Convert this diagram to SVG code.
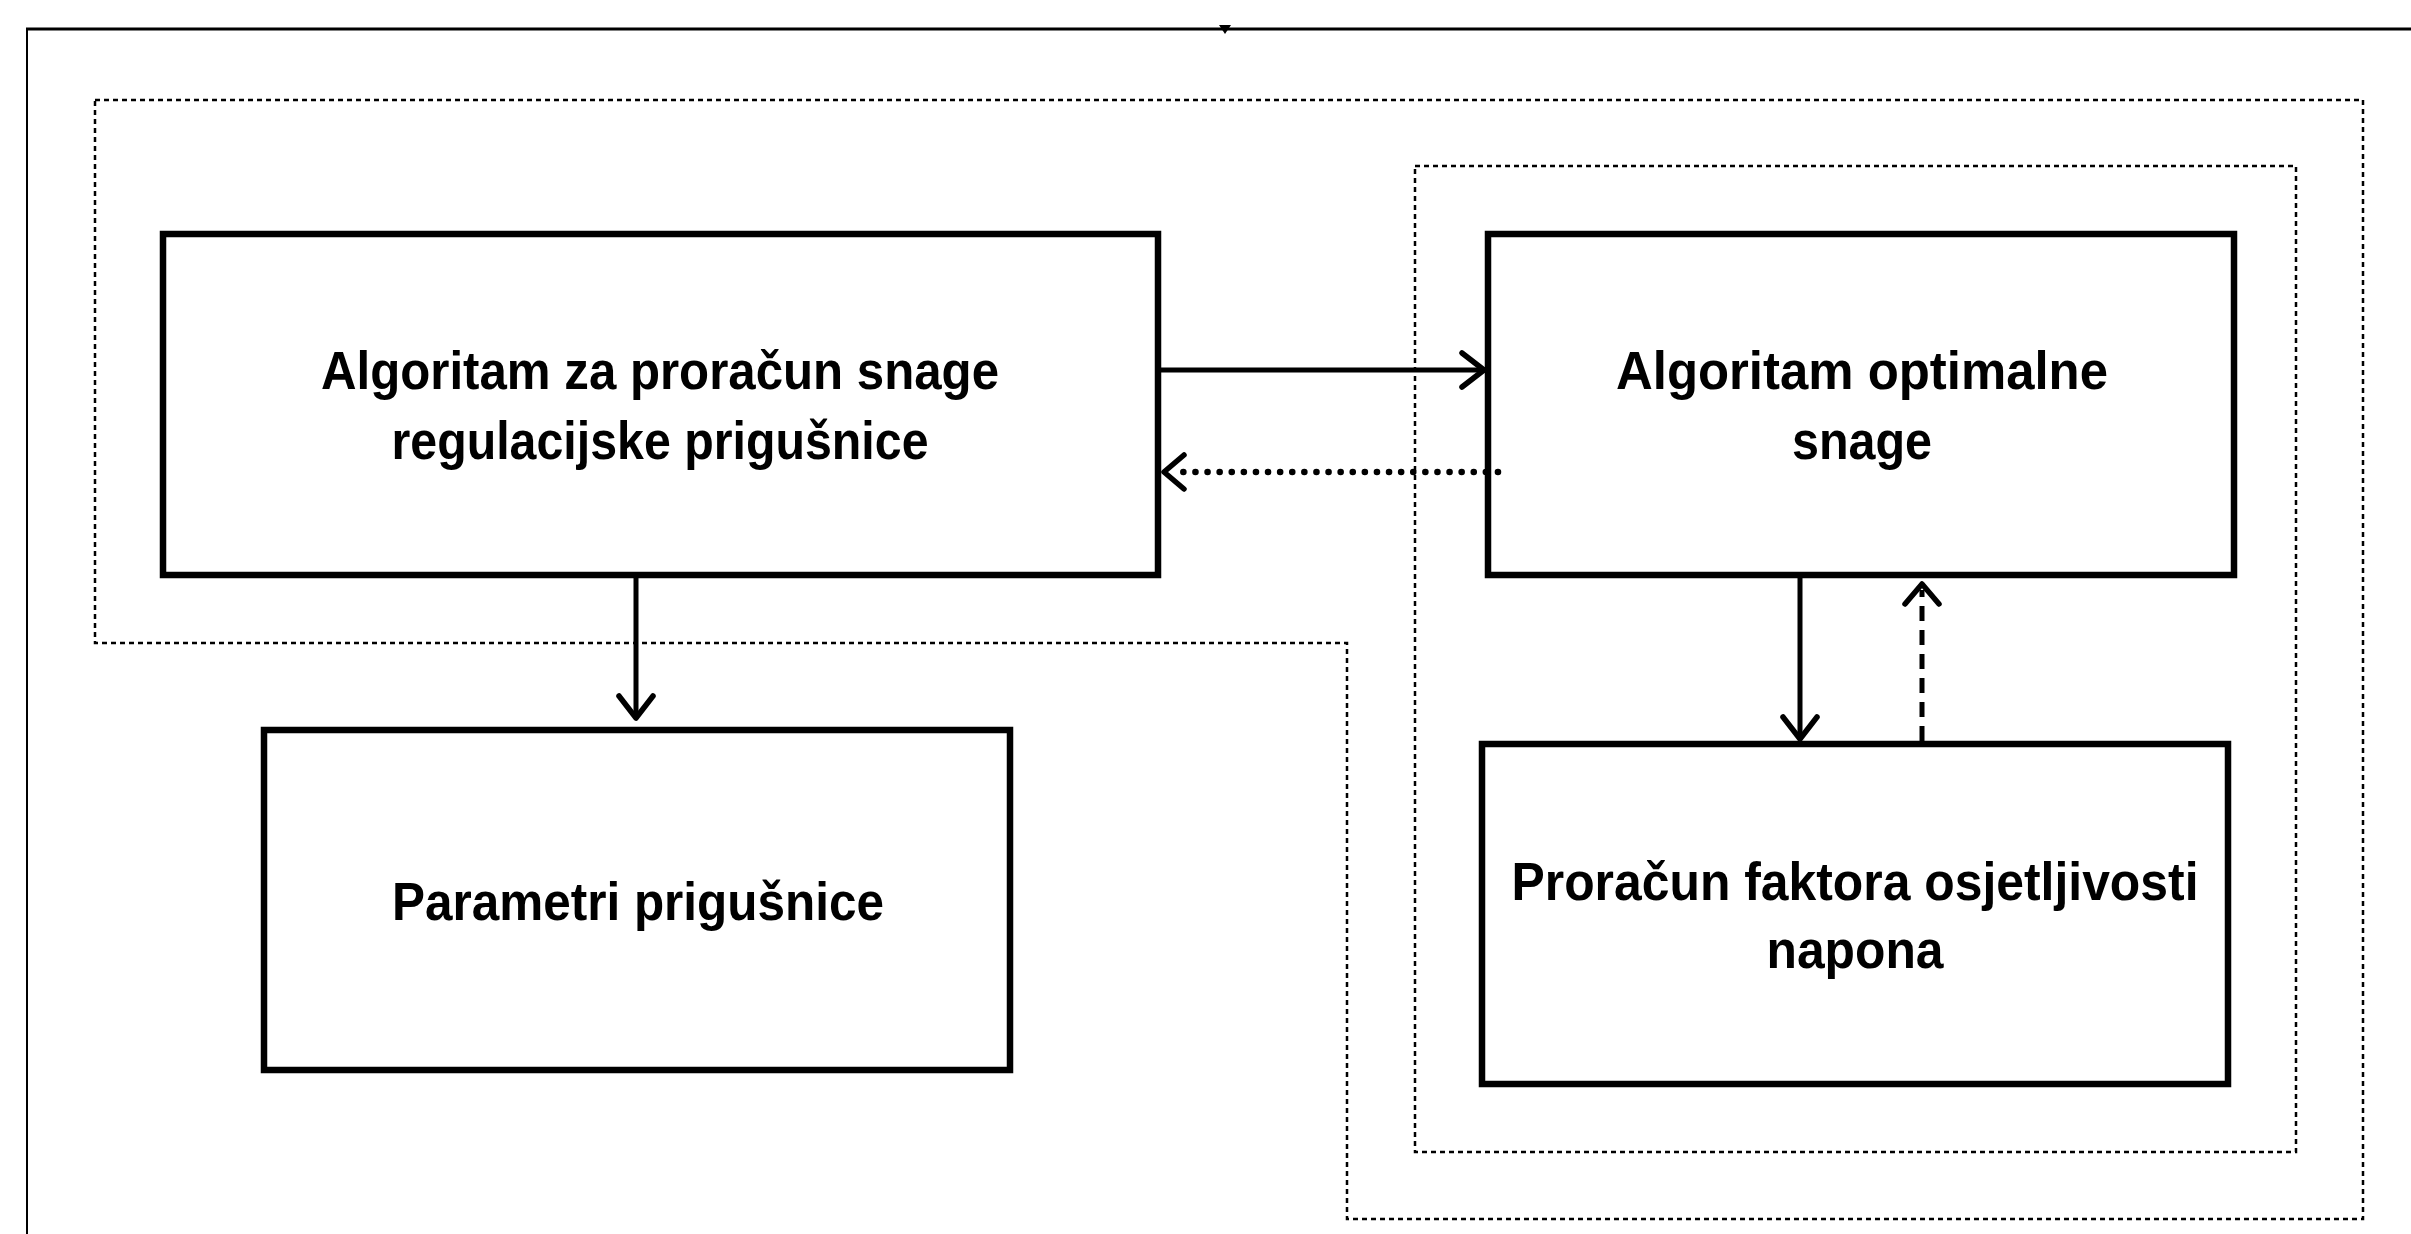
<svg xmlns="http://www.w3.org/2000/svg" width="2411" height="1234" viewBox="0 0 2411 1234">
<style>
.box{fill:#fff;stroke:#000;stroke-width:6.5}
.lbl{font-family:"Liberation Sans",Arial,sans-serif;font-weight:bold;font-size:54px;fill:#000;text-anchor:middle}
.grp{fill:none;stroke:#000;stroke-width:2.5;stroke-dasharray:5 4}
.solid{fill:none;stroke:#000;stroke-width:5}
.dots{fill:none;stroke:#000;stroke-width:6.5;stroke-dasharray:0.1 12;stroke-linecap:round}
.dash{fill:none;stroke:#000;stroke-width:5;stroke-dasharray:15 9}
</style>
<defs>
<marker id="chev" viewBox="-26 -20 30 40" markerWidth="30" markerHeight="40" refX="0" refY="0" orient="auto" markerUnits="userSpaceOnUse">
<path d="M-22,-17 L0,0 L-22,17" fill="none" stroke="#000" stroke-width="5.5" stroke-linecap="round" stroke-linejoin="round"/>
</marker>
</defs>
<rect width="2411" height="1234" fill="#fff"/>
<g id="frame">
<line x1="26" y1="29" x2="2411" y2="29" stroke="#000" stroke-width="3"/>
<line x1="27" y1="28" x2="27" y2="1234" stroke="#000" stroke-width="2"/>
<path d="M1219,25 L1231,25 L1225,34 Z" fill="#000"/>
</g>
<g id="groups">
<path class="grp" d="M95,100 L2363,100 L2363,1219 L1347,1219 L1347,643 L95,643 Z"/>
<rect class="grp" x="1415" y="166" width="881" height="986"/>
</g>
<g id="node-algoritam-proracun">
<rect class="box" x="163" y="234" width="995" height="341"/>
<text class="lbl" x="660" y="389" textLength="678" lengthAdjust="spacingAndGlyphs">Algoritam za proračun snage</text>
<text class="lbl" x="660" y="459" textLength="537" lengthAdjust="spacingAndGlyphs">regulacijske prigušnice</text>
</g>
<g id="node-algoritam-optimalne">
<rect class="box" x="1488" y="234" width="746" height="341"/>
<text class="lbl" x="1862" y="389" textLength="492" lengthAdjust="spacingAndGlyphs">Algoritam optimalne</text>
<text class="lbl" x="1862" y="459" textLength="140" lengthAdjust="spacingAndGlyphs">snage</text>
</g>
<g id="node-parametri">
<rect class="box" x="264" y="730" width="746" height="340"/>
<text class="lbl" x="638" y="920" textLength="492" lengthAdjust="spacingAndGlyphs">Parametri prigušnice</text>
</g>
<g id="node-proracun-faktora">
<rect class="box" x="1482" y="744" width="746" height="340"/>
<text class="lbl" x="1855" y="900" textLength="687" lengthAdjust="spacingAndGlyphs">Proračun faktora osjetljivosti</text>
<text class="lbl" x="1855" y="968" textLength="177" lengthAdjust="spacingAndGlyphs">napona</text>
</g>
<g id="connectors">
<line class="solid" x1="1161" y1="370" x2="1484" y2="370" marker-end="url(#chev)"/>
<line class="dots" x1="1498" y1="472" x2="1172" y2="472"/>
<path d="M1184,455 L1164,472 L1184,489" fill="none" stroke="#000" stroke-width="5.5" stroke-linecap="round" stroke-linejoin="round"/>
<line class="solid" x1="636" y1="578" x2="636" y2="718" marker-end="url(#chev)"/>
<line class="solid" x1="1800" y1="578" x2="1800" y2="739" marker-end="url(#chev)"/>
<line class="dash" x1="1922" y1="741" x2="1922" y2="590"/>
<path d="M1905,604 L1922,584 L1939,604" fill="none" stroke="#000" stroke-width="5.5" stroke-linecap="round" stroke-linejoin="round"/>
</g>
</svg>
